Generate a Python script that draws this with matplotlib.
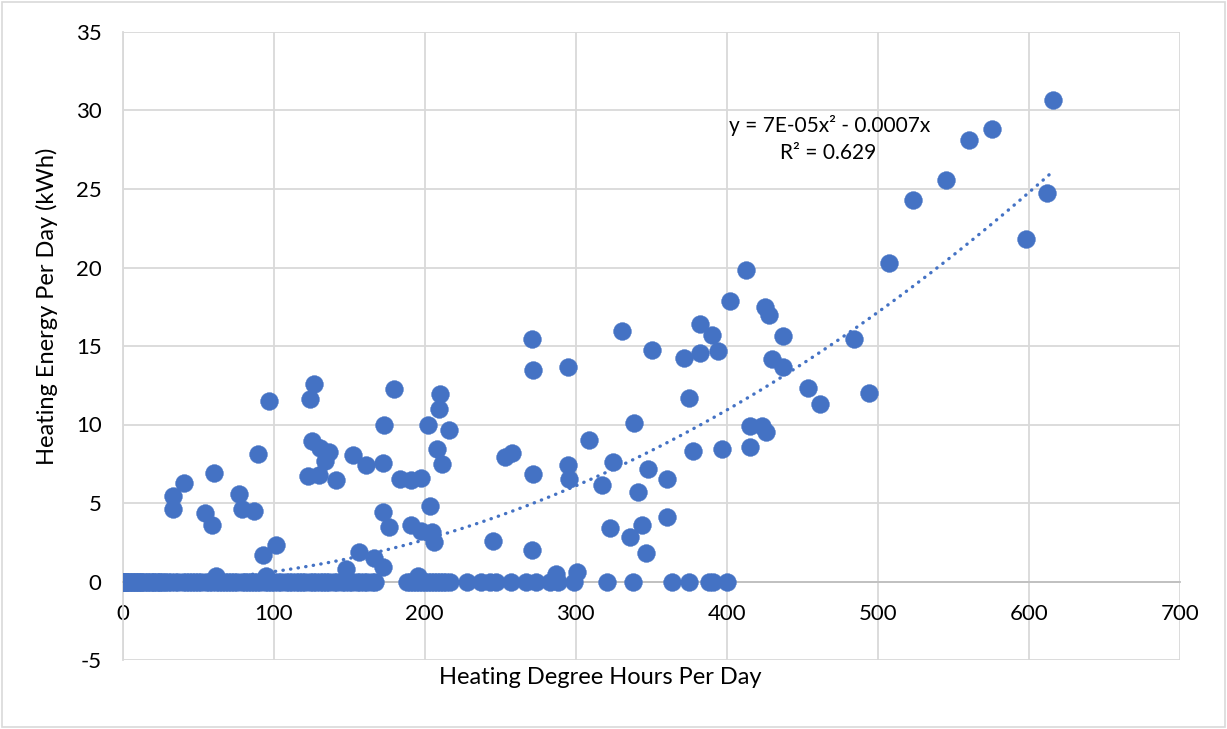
import numpy as np
import matplotlib.pyplot as plt
from matplotlib.patches import Rectangle

plt.rcParams['font.family'] = ['Lato', 'DejaVu Sans']
plt.rcParams['axes.unicode_minus'] = False

# Days with no heating energy (y = 0)
zero_hdh = [0, 0, 0, 1, 1, 2, 2, 3, 4, 5, 6, 7, 8, 9, 10, 11, 12, 13, 14, 16, 17, 19,
            20, 21, 23, 24, 25, 27, 28, 30, 32, 35, 37, 40, 42, 44, 46, 48, 50, 52,
            55, 57, 59, 62, 64, 66, 68, 70, 72, 74, 76, 79, 81, 83, 85, 87, 89, 91,
            94, 96, 98, 100, 103, 105, 108, 110, 112, 115, 117, 119, 121, 124, 126,
            128, 131, 133, 135, 137, 140, 142, 145, 147, 150, 152, 155, 157, 160,
            162, 165, 167, 188, 190, 192, 194, 196, 198, 200, 202, 204, 206, 208,
            210, 212, 214, 217, 228, 237, 243, 247, 257, 267, 274, 283, 288, 299,
            321, 338, 364, 375, 388, 391, 400]

# Days with heating energy use
hdh = [61.6, 94.7, 195.5, 287, 301,
       33.6, 33.6, 41, 54.5, 59, 60.3, 77, 78.8, 87, 89.8, 93.2, 96.9, 101.5,
       123.8, 126.5, 125.2, 130.7, 136.6, 134, 123, 130, 141.3, 148, 152.5, 156.5,
       161, 166.4, 172.2, 172.4, 172.6, 173, 176.6, 179.5,
       184, 190.7, 197.6, 190.7, 197.4, 202, 203.5, 205, 206.2, 208.2, 209.5,
       210.1, 211.3, 216,
       245.2, 253, 257.8, 271, 272, 272, 271.3, 295, 295.2, 295.4, 308.6, 317.2,
       322.7, 324.7, 330.7, 335.8, 338.8, 341.1, 343.7, 346.8, 347.7, 350.4,
       360.7, 360.7,
       371.5, 374.8, 377.5, 382, 382, 390.5, 394, 396.7, 401.8, 412.6, 415.4,
       415.4, 423, 425.6, 425.8, 428, 429.7, 437, 437.4,
       454, 461.6, 484.3, 494, 507.5, 523.2, 545.4, 560.5, 575.7, 598.2, 611.9,
       615.9]
energy = [0.38, 0.38, 0.33, 0.5, 0.6,
          5.42, 4.61, 6.27, 4.36, 3.6, 6.91, 5.55, 4.59, 4.48, 8.14, 1.66, 11.5, 2.34,
          11.65, 12.6, 8.93, 8.5, 8.25, 7.7, 6.72, 6.8, 6.44, 0.81, 8.04, 1.87,
          7.4, 1.5, 4.4, 0.91, 7.55, 9.97, 3.49, 12.26,
          6.55, 6.44, 6.59, 3.6, 3.21, 9.95, 4.78, 3.15, 2.51, 8.44, 10.97,
          11.97, 7.5, 9.63,
          2.6, 7.93, 8.18, 15.43, 13.46, 6.87, 2.02, 13.67, 7.44, 6.55, 9.04, 6.14,
          3.42, 7.61, 15.96, 2.83, 10.12, 5.7, 3.61, 1.8, 7.19, 14.73,
          6.55, 4.1,
          14.23, 11.67, 8.29, 16.39, 14.55, 15.68, 14.69, 8.46, 17.84, 19.82, 9.9,
          8.57, 9.9, 17.46, 9.52, 16.98, 14.17, 15.64, 13.69,
          12.3, 11.29, 15.45, 12.0, 20.26, 24.3, 25.57, 28.13, 28.8, 21.81, 24.74,
          30.68]

# Polynomial trendline (order 2, zero intercept)
coef_a = 7e-05
coef_b = -0.0007

blue = '#4472C4'

fig = plt.figure(figsize=(12.27, 7.29), dpi=100)
ax = fig.add_axes([122.5 / 1227, 1 - 660 / 729, (1180 - 122.5) / 1227, (660 - 32) / 729])

x_all = np.concatenate([zero_hdh, hdh])
y_all = np.concatenate([np.zeros(len(zero_hdh)), energy])
ax.scatter(x_all, y_all, s=165, color=blue, edgecolor=blue, linewidth=0.3, zorder=3)

xt = np.linspace(0, max(x_all), 300)
ax.plot(xt, coef_a * xt ** 2 + coef_b * xt, color=blue, lw=2.4,
        linestyle=(0, (0.1, 2.2)), dash_capstyle='round', zorder=4)

ax.text(830 / 1227, 1 - 126 / 729, 'y = 7E-05x² - 0.0007x', transform=fig.transFigure,
        ha='center', va='center', fontsize=15)
ax.text(828 / 1227, 1 - 153 / 729, 'R² = 0.629', transform=fig.transFigure,
        ha='center', va='center', fontsize=15)

ax.set_xlim(0, 700)
ax.set_ylim(-5, 35)
ax.set_xticks(range(0, 701, 100))
ax.set_yticks(range(-5, 36, 5))
ax.grid(True, color='#D9D9D9', lw=1.3)
ax.set_axisbelow(True)

for s in ['top', 'right']:
    ax.spines[s].set_visible(False)
ax.spines['bottom'].set_position(('data', 0))
ax.spines['bottom'].set_color('#BFBFBF')
ax.spines['bottom'].set_linewidth(1.3)
ax.spines['left'].set_color('#D9D9D9')
ax.spines['left'].set_linewidth(1.3)
ax.tick_params(axis='both', length=0, labelsize=16, colors='black')
ax.tick_params(axis='x', pad=16)
ax.tick_params(axis='y', pad=15)

fig.text(600 / 1227, 1 - 677 / 729, 'Heating Degree Hours Per Day', ha='center',
         va='center', fontsize=17)
fig.text(47 / 1227, 1 - 306 / 729, 'Heating Energy Per Day (kWh)', ha='center',
         va='center', rotation=90, fontsize=17)

fig.add_artist(Rectangle((2 / 1227, 2 / 729), 1223 / 1227, 725 / 729, transform=fig.transFigure,
                         fill=False, edgecolor='#D9D9D9', lw=1.2))

fig.savefig('out.png', dpi=100)
